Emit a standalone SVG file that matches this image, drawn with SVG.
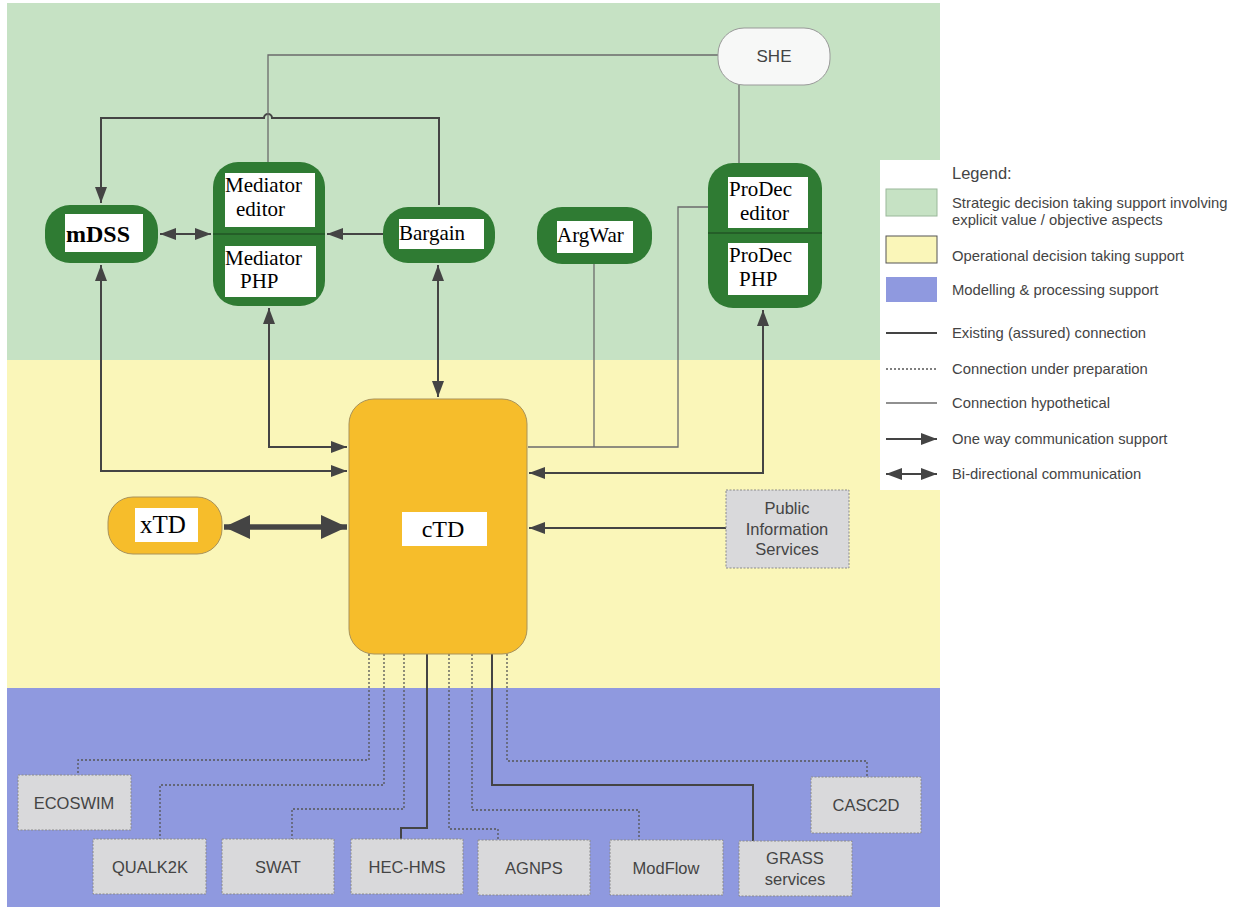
<svg xmlns="http://www.w3.org/2000/svg" width="1236" height="907" viewBox="0 0 1236 907">
<style>
.gbox{fill:#2f7b33;}
.lbl{fill:#ffffff;}
.ser{font-family:"Liberation Serif","Times New Roman",serif;fill:#000;}
.sans{font-family:"Liberation Sans",Arial,sans-serif;fill:#444;}
.lg{font-family:"Liberation Sans",Arial,sans-serif;fill:#444;}
.ex{fill:none;stroke:#444;stroke-width:2;}
.hy{fill:none;stroke:#6b6b6b;stroke-width:1.3;}
.dt{fill:none;stroke:#555;stroke-width:1.3;stroke-dasharray:2 2;}
.gray{fill:#d9d9db;stroke:#8a8a8a;stroke-width:1;stroke-dasharray:2 1.5;}
.amb{fill:#f6bd2b;stroke:#a8925a;stroke-width:1;}
</style>
<defs>
<marker id="ah" viewBox="0 0 16 12" refX="16" refY="6" markerWidth="16" markerHeight="12" markerUnits="userSpaceOnUse" orient="auto-start-reverse"><path d="M0,0 L16,6 L0,12 z" fill="#444"/></marker>
<marker id="big" viewBox="0 0 26 24" refX="26" refY="12" markerWidth="26" markerHeight="24" markerUnits="userSpaceOnUse" orient="auto-start-reverse"><path d="M0,0 L26,12 L0,24 z" fill="#444"/></marker>
</defs>
<rect x="0" y="0" width="1236" height="907" fill="#ffffff"/>
<g id="bands">
<rect x="7" y="3" width="933" height="357" fill="#c6e2c4"/>
<rect x="7" y="360" width="933" height="328" fill="#faf6b9"/>
<rect x="7" y="688" width="933" height="219" fill="#8f99df"/>
</g>
<g id="connectors">
<line class="ex" x1="160" y1="234" x2="211" y2="234" marker-start="url(#ah)" marker-end="url(#ah)"/>
<line class="ex" x1="383" y1="234" x2="327" y2="234" marker-end="url(#ah)"/>
<path class="ex" d="M439,205 V118 H272 A4,4 0 0 0 264,118 H101 V203" marker-end="url(#ah)"/>
<path class="hy" d="M268,162 V55 H718"/>
<path class="hy" d="M739,85 V163"/>
<path class="ex" d="M438,265 V397" marker-start="url(#ah)" marker-end="url(#ah)"/>
<path class="ex" d="M269,308 V447 H347" marker-start="url(#ah)" marker-end="url(#ah)"/>
<path class="ex" d="M101,265 V471 H347" marker-start="url(#ah)" marker-end="url(#ah)"/>
<path class="hy" d="M594,264 V447"/>
<path class="hy" d="M528,447 H678 V207 H708"/>
<path class="ex" d="M763,310 V473 H529" marker-start="url(#ah)" marker-end="url(#ah)"/>
<path class="ex" d="M726,528 H529" marker-end="url(#ah)"/>
<path fill="none" stroke="#444" stroke-width="5.5" d="M224,527 H347" marker-start="url(#big)" marker-end="url(#big)"/>
<path class="dt" d="M369,654 V760 H78 V775"/>
<path class="dt" d="M384,654 V785 H160 V839"/>
<path class="dt" d="M404,654 V809 H292 V839"/>
<path class="ex" d="M427,654 V828 H401 V839"/>
<path class="dt" d="M449,654 V829 H498 V840"/>
<path class="dt" d="M472,654 V810 H639 V840"/>
<path class="ex" d="M492,654 V785 H753 V841"/>
<path class="dt" d="M507,654 V761 H867 V778"/>
</g>
<g id="SHE">
<rect x="718" y="28" width="112" height="57" rx="26" fill="#f7f8f7" stroke="#999" stroke-width="1"/>
<text class="sans" x="774" y="62" style="font-size:17px" text-anchor="middle">SHE</text>
</g>
<g id="mDSS">
<rect class="gbox" x="45" y="205" width="113" height="58" rx="25"/>
<rect class="lbl" x="65" y="214" width="78" height="38"/>
<text class="ser" x="66" y="242" style="font-size:24px;font-weight:bold">mDSS</text>
</g>
<g id="Mediator" class="ser" style="font-size:21px">
<rect class="gbox" x="213" y="162" width="112" height="144" rx="25"/>
<line x1="213" y1="234" x2="325" y2="234" stroke="#245e28" stroke-width="2"/>
<rect class="lbl" x="225" y="173" width="90" height="54"/>
<rect class="lbl" x="225" y="246" width="91" height="51"/>
<text x="225" y="192">Mediator</text>
<text x="236" y="216">editor</text>
<text x="225" y="265">Mediator</text>
<text x="240" y="288">PHP</text>
</g>
<g id="Bargain" class="ser" style="font-size:21px">
<rect class="gbox" x="383" y="207" width="112" height="56" rx="25"/>
<rect class="lbl" x="399" y="219" width="85" height="30"/>
<text x="399" y="240">Bargain</text>
</g>
<g id="ArgWar" class="ser" style="font-size:21px">
<rect class="gbox" x="537" y="207" width="115" height="57" rx="25"/>
<rect class="lbl" x="557" y="221" width="76" height="32"/>
<text x="557" y="242">ArgWar</text>
</g>
<g id="ProDec" class="ser" style="font-size:21px">
<rect class="gbox" x="708" y="163" width="114" height="145" rx="25"/>
<line x1="708" y1="233" x2="822" y2="233" stroke="#245e28" stroke-width="2"/>
<rect class="lbl" x="728" y="177" width="80" height="51"/>
<rect class="lbl" x="728" y="243" width="80" height="52"/>
<text x="729" y="196">ProDec</text>
<text x="740" y="220">editor</text>
<text x="729" y="262">ProDec</text>
<text x="739" y="286">PHP</text>
</g>
<g id="cTD">
<rect class="amb" x="349" y="399" width="178" height="255" rx="25"/>
<rect class="lbl" x="402" y="512" width="85" height="34"/>
<text class="ser" x="443" y="537" style="font-size:24px" text-anchor="middle">cTD</text>
</g>
<g id="xTD">
<rect class="amb" x="108" y="497" width="114" height="57" rx="25"/>
<rect class="lbl" x="135" y="508" width="63" height="34"/>
<text class="ser" x="140" y="533" style="font-size:25px">xTD</text>
</g>
<g id="PIS" class="sans" style="font-size:16.5px">
<rect class="gray" x="726" y="490" width="123" height="78"/>
<text x="787" y="514" text-anchor="middle">Public</text>
<text x="787" y="535" text-anchor="middle">Information</text>
<text x="787" y="555" text-anchor="middle">Services</text>
</g>
<g id="ECOSWIM" class="sans" style="font-size:16.5px"><rect class="gray" x="18" y="775" width="113" height="55"/><text x="74" y="809" text-anchor="middle">ECOSWIM</text></g>
<g id="QUALK2K" class="sans" style="font-size:16.5px"><rect class="gray" x="93" y="839" width="113" height="55"/><text x="150" y="873" text-anchor="middle">QUALK2K</text></g>
<g id="SWAT" class="sans" style="font-size:16.5px"><rect class="gray" x="222" y="839" width="112" height="55"/><text x="278" y="873" text-anchor="middle">SWAT</text></g>
<g id="HEC-HMS" class="sans" style="font-size:16.5px"><rect class="gray" x="351" y="839" width="112" height="55"/><text x="407" y="873" text-anchor="middle">HEC-HMS</text></g>
<g id="AGNPS" class="sans" style="font-size:16.5px"><rect class="gray" x="478" y="840" width="112" height="55"/><text x="534" y="874" text-anchor="middle">AGNPS</text></g>
<g id="ModFlow" class="sans" style="font-size:16.5px"><rect class="gray" x="610" y="840" width="113" height="55"/><text x="666" y="874" text-anchor="middle">ModFlow</text></g>
<g id="GRASS" class="sans" style="font-size:16.5px"><rect class="gray" x="739" y="841" width="113" height="55"/><text x="795" y="864" text-anchor="middle">GRASS</text><text x="795" y="885" text-anchor="middle">services</text></g>
<g id="CASC2D" class="sans" style="font-size:16.5px"><rect class="gray" x="811" y="777" width="110" height="56"/><text x="866" y="811" text-anchor="middle">CASC2D</text></g>
<g id="legend" class="lg" style="font-size:14.8px">
<rect x="880" y="160" width="356" height="330" fill="#ffffff"/>
<text x="952" y="179" style="font-size:16.5px">Legend:</text>
<rect x="886" y="189" width="51" height="27" fill="#c6e2c4" stroke="#9ab89a" stroke-width="1"/>
<text x="952" y="208">Strategic decision taking support involving</text>
<text x="952" y="225">explicit value / objective aspects</text>
<rect x="886" y="236" width="51" height="27" fill="#faf6b9" stroke="#555" stroke-width="1"/>
<text x="952" y="261">Operational decision taking support</text>
<rect x="886" y="277" width="51" height="25" fill="#8f99df"/>
<text x="952" y="295">Modelling &amp; processing support</text>
<line class="ex" x1="886" y1="333" x2="937" y2="333" stroke-width="1.5"/>
<text x="952" y="338">Existing (assured) connection</text>
<line class="dt" x1="886" y1="369" x2="937" y2="369"/>
<text x="952" y="374">Connection under preparation</text>
<line class="hy" x1="886" y1="403" x2="937" y2="403"/>
<text x="952" y="408">Connection hypothetical</text>
<line class="ex" x1="886" y1="439" x2="937" y2="439" marker-end="url(#ah)"/>
<text x="952" y="444">One way communication support</text>
<line class="ex" x1="886" y1="474" x2="937" y2="474" marker-start="url(#ah)" marker-end="url(#ah)"/>
<text x="952" y="479">Bi-directional communication</text>
</g>
</svg>
